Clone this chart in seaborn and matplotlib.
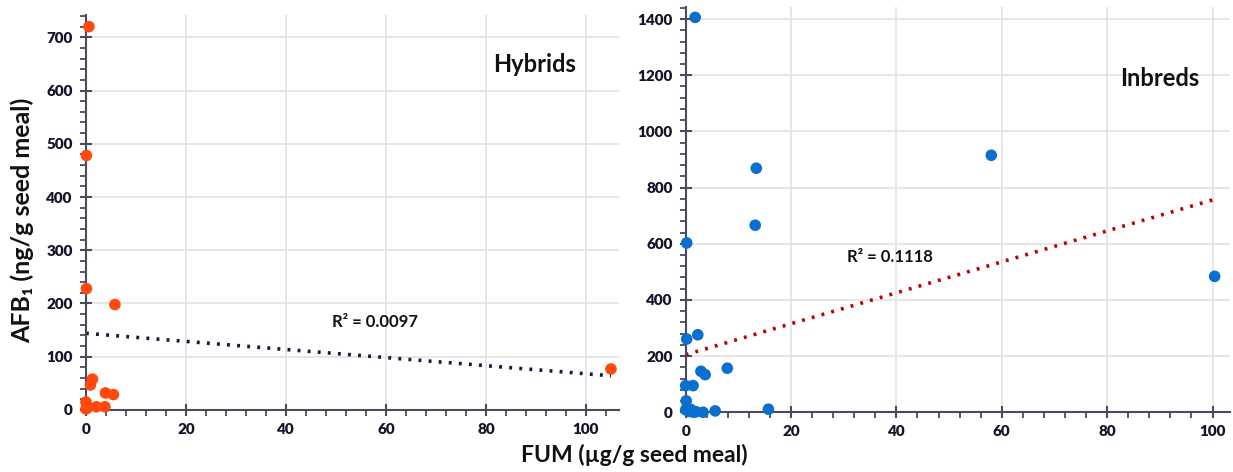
import numpy as np
import pandas as pd
import matplotlib.pyplot as plt
from matplotlib.ticker import MultipleLocator
import seaborn as sns

# Hybrids: FUM (ug/g) vs AFB1 (ng/g)
hyb_fum = [0.6, 0.1, 0.1, 5.8, 1.3, 0.9, 3.9, 5.5, 0.0, 0.2, 0.3, 2.1, 3.8, 0.0, 105.0]
hyb_afb = [720, 478, 228, 198, 58, 47, 32, 29, 15, 8, 4, 6, 6, 2, 77]
hyb_trend = (144.0, -0.76)   # intercept, slope
hyb_r2 = "R² = 0.0097"

# Inbreds
inb_fum = [1.8, 13.4, 13.2, 0.2, 0.2, 2.3, 2.9, 3.7, 7.9, 0.0, 1.4, 0.1, 0.0, 1.0,
           1.5, 3.3, 5.6, 15.7, 58.0, 100.4, 0.6, 2.0]
inb_afb = [1406, 869, 666, 603, 261, 276, 146, 134, 157, 95, 95, 41, 9, 10,
           0, 0, 5, 11, 915, 484, 3, 2]
inb_trend = (205.0, 5.51)
inb_r2 = "R² = 0.1118"

sns.set_style("white")
plt.rcParams['font.family'] = ['Lato', 'DejaVu Sans']
plt.rcParams['font.weight'] = 'bold'

fig = plt.figure(figsize=(12.33, 4.72), dpi=100)
ax1 = fig.add_axes([0.0697, 0.1314, 0.4323, 0.837])
ax2 = fig.add_axes([0.5561, 0.1265, 0.4414, 0.8587])

tick_col = '#15152a'
spine_col = '#4a4a5e'


def style_axis(ax, xmax, ymax, xmaj, ymaj, xmin, ymin):
    ax.set_xlim(0, xmax)
    ax.set_ylim(0, ymax)
    ax.xaxis.set_major_locator(MultipleLocator(xmaj))
    ax.yaxis.set_major_locator(MultipleLocator(ymaj))
    ax.xaxis.set_minor_locator(MultipleLocator(xmin))
    ax.yaxis.set_minor_locator(MultipleLocator(ymin))
    ax.grid(True, which='major', color='#e4e4e4', linewidth=1.3)
    ax.set_axisbelow(True)
    for s in ['top', 'right']:
        ax.spines[s].set_visible(False)
    for s in ['left', 'bottom']:
        ax.spines[s].set_color(spine_col)
        ax.spines[s].set_linewidth(1.5)
    ax.tick_params(which='both', bottom=True, left=True)
    ax.tick_params(which='major', direction='inout', length=9, width=1.5,
                   color=spine_col, labelsize=11, labelcolor=tick_col, pad=5)
    ax.tick_params(which='minor', direction='out', length=4.5, width=1.3,
                   color=spine_col)
    for lab in ax.get_xticklabels() + ax.get_yticklabels():
        lab.set_fontweight('heavy')
    ax.set_xlabel('')
    ax.set_ylabel('')


# left panel
df_h = pd.DataFrame({'FUM': hyb_fum, 'AFB1': hyb_afb})
sns.scatterplot(data=df_h, x='FUM', y='AFB1', ax=ax1, color='#ff4a0c', s=70,
                edgecolor='none', clip_on=False, zorder=3)
xs = np.array([0, max(hyb_fum)])
sns.lineplot(x=xs, y=hyb_trend[0] + hyb_trend[1] * xs, ax=ax1, color='#141a3a',
             linestyle=(0, (0.8, 2.0)), linewidth=2.6, zorder=2)
style_axis(ax1, 106.6, 742, 20, 100, 4, 20)

# right panel
df_i = pd.DataFrame({'FUM': inb_fum, 'AFB1': inb_afb})
sns.scatterplot(data=df_i, x='FUM', y='AFB1', ax=ax2, color='#0b6fd0', s=70,
                edgecolor='none', clip_on=False, zorder=3)
xs = np.array([0, max(inb_fum) - 0.4])
sns.lineplot(x=xs, y=inb_trend[0] + inb_trend[1] * xs, ax=ax2, color='#c00000',
             linestyle=(0, (0.8, 2.0)), linewidth=2.6, zorder=2)
style_axis(ax2, 103.3, 1443, 20, 200, 4, 40)

txt = '#111111'
fig.text(22 / 1233, 1 - 220 / 472, 'AFB₁ (ng/g seed meal)', rotation=90,
         fontsize=18, fontweight='bold', ha='center', va='center', color=txt)
fig.text(634 / 1233, 1 - 455 / 472, 'FUM (µg/g seed meal)', fontsize=16.5,
         fontweight='bold', ha='center', va='center', color=txt)

fig.text(535 / 1233, 1 - 65 / 472, 'Hybrids', fontsize=17, fontweight='bold',
         ha='center', va='center', color=txt)
fig.text(375 / 1233, 1 - 322 / 472, hyb_r2, fontsize=12, fontweight='bold',
         ha='center', va='center', color=txt)
fig.text(1160 / 1233, 1 - 78 / 472, 'Inbreds', fontsize=17, fontweight='bold',
         ha='center', va='center', color=txt)
fig.text(890 / 1233, 1 - 257 / 472, inb_r2, fontsize=12, fontweight='bold',
         ha='center', va='center', color=txt)

fig.savefig('out.png', dpi=100)
